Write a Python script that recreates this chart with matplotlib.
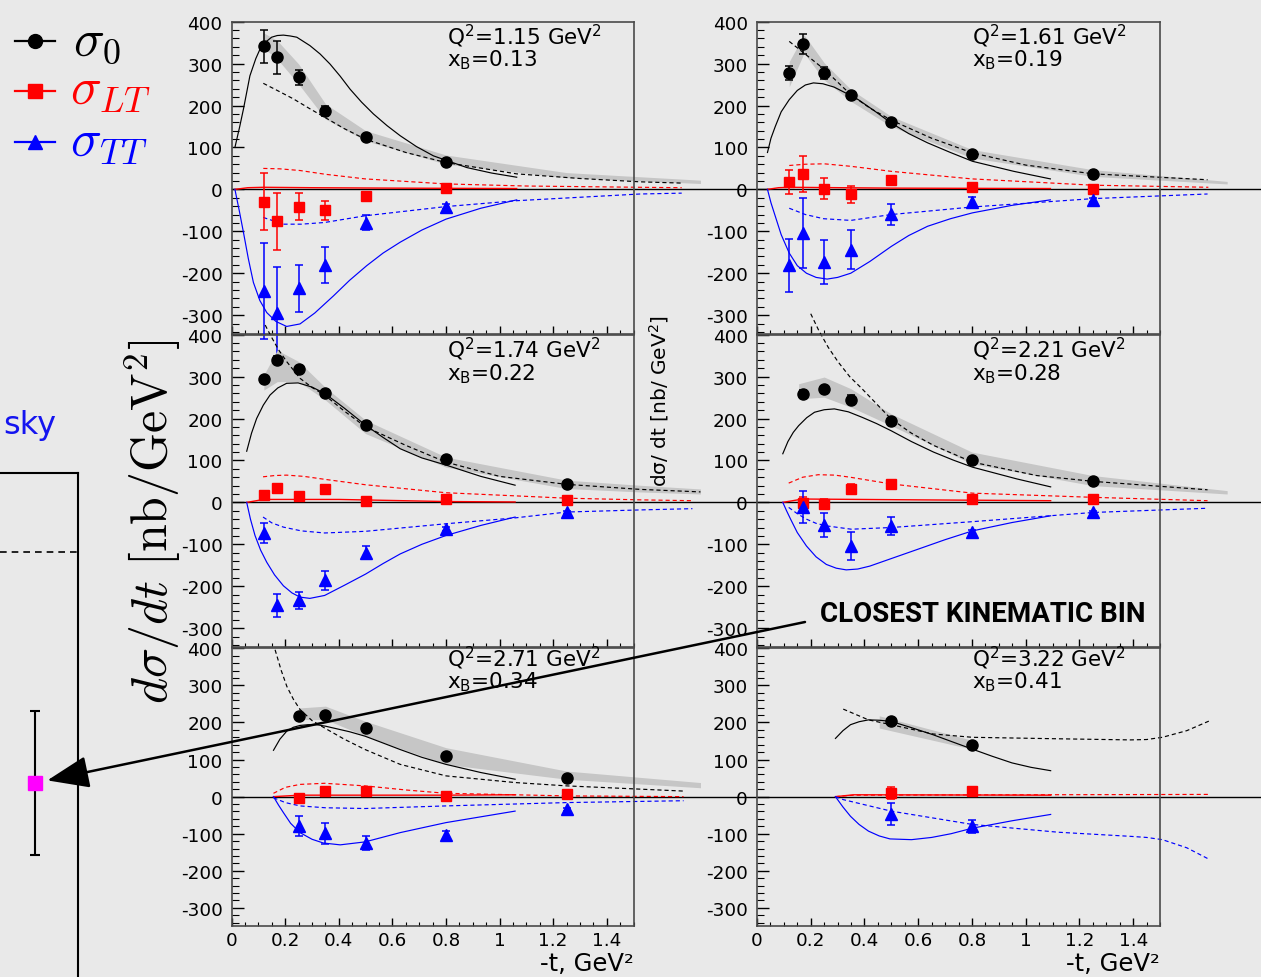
import matplotlib
matplotlib.use("Agg")
import matplotlib.pyplot as plt
from matplotlib.lines import Line2D
from matplotlib.ticker import FixedLocator, MultipleLocator, FixedFormatter
import matplotlib.transforms as mtransforms

# ------------------------------------------------------------------ data
T_BINS = [0.12, 0.17, 0.25, 0.35, 0.5, 0.8, 1.25]
X_TICKS = [0, 0.2, 0.4, 0.6, 0.8, 1.0, 1.2, 1.4]
X_TICK_LABELS = ["0", "0.2", "0.4", "0.6", "0.8", "1", "1.2", "1.4"]

# --- panel 1: Q2=1.15, xB=0.13
p1_q2, p1_xb = "1.15", "0.13"
p1_t = T_BINS[:6]
p1_s0 = [341, 315, 267, 187, 126, 66]
p1_s0_err = [39, 40, 18, 12, 6, 5]
p1_lt = [-30, -76, -41, -50, -15, 4]
p1_lt_err = [68, 68, 32, 23, 6, 5]
p1_tt = [-243, -294, -236, -180, -80, -41]
p1_tt_err = [115, 110, 56, 43, 18, 5]
p1_s0_solid_t = [0.012, 0.03, 0.044, 0.068, 0.09, 0.106, 0.128, 0.149, 0.17, 0.193, 0.218, 0.243, 0.292, 0.33, 0.367, 0.405, 0.442, 0.485, 0.529, 0.58, 0.629, 0.69, 0.753, 0.878, 0.97, 1.064]
p1_s0_solid = [100, 150, 192, 271, 312, 335, 352, 363, 367, 368, 366, 363, 343, 323, 299, 270, 239, 208, 180, 152, 128, 102, 80, 52, 39, 29]
p1_s0_dash_t = [0.118, 0.17, 0.23, 0.29, 0.347, 0.42, 0.498, 0.65, 0.8, 1.064, 1.3, 1.525, 1.68]
p1_s0_dash = [253, 236, 216, 193, 172, 145, 120, 88, 64, 37, 26, 18, 15]
p1_band_t = [0.115, 0.17, 0.25, 0.35, 0.5, 0.8, 1.25, 1.75]
p1_band_lo = [339, 311, 251, 168, 116, 60, 28, 14]
p1_band_hi = [375, 355, 299, 204, 140, 82, 40, 22]
p1_lt_solid_t = [0.012, 0.06, 0.12, 0.3, 0.6, 1.064]
p1_lt_solid = [0, 4, 5, 4, 3, 2]
p1_lt_dash_t = [0.118, 0.18, 0.255, 0.35, 0.498, 0.8, 1.1, 1.525, 1.68]
p1_lt_dash = [50, 49, 45, 36, 25, 13, 8, 5, 4]
p1_tt_solid_t = [0.012, 0.028, 0.044, 0.062, 0.081, 0.105, 0.131, 0.165, 0.205, 0.255, 0.31, 0.38, 0.44, 0.504, 0.565, 0.629, 0.71, 0.8, 0.93, 1.064]
p1_tt_solid = [0, -50, -103, -165, -222, -265, -294, -315, -327, -321, -295, -254, -217, -182, -152, -126, -97, -71, -45, -25]
p1_tt_dash_t = [0.118, 0.193, 0.26, 0.347, 0.498, 0.8, 1.064, 1.525, 1.68]
p1_tt_dash = [-67, -83, -83, -79, -63, -41, -27, -11, -9]

# --- panel 2: Q2=1.61, xB=0.19
p2_q2, p2_xb = "1.61", "0.19"
p2_t = T_BINS
p2_s0 = [278, 347, 278, 224, 161, 84, 36]
p2_s0_err = [17, 24, 15, 9, 5, 5, 4]
p2_lt = [18, 37, 2, -12, 22, 6, 2]
p2_lt_err = [28, 43, 26, 20, 5, 4, 4]
p2_tt = [-181, -104, -173, -144, -59, -31, -25]
p2_tt_err = [63, 83, 53, 46, 25, 13, 4]
p2_s0_solid_t = [0.039, 0.052, 0.068, 0.09, 0.12, 0.15, 0.18, 0.21, 0.245, 0.287, 0.33, 0.377, 0.44, 0.5, 0.565, 0.635, 0.72, 0.802, 0.956, 1.092]
p2_s0_solid = [88, 122, 150, 185, 214, 236, 249, 254, 252, 244, 230, 214, 186, 158, 133, 111, 88, 67, 43, 25]
p2_s0_dash_t = [0.12, 0.175, 0.251, 0.349, 0.42, 0.5, 0.65, 0.802, 1.0, 1.252, 1.677]
p2_s0_dash = [353, 325, 286, 226, 194, 165, 122, 87, 58, 37, 23]
p2_band_t = [0.12, 0.175, 0.25, 0.35, 0.5, 0.8, 1.25, 1.75]
p2_band_lo = [245, 325, 261, 210, 150, 75, 31, 13]
p2_band_hi = [305, 369, 302, 238, 174, 95, 47, 19]
p2_lt_solid_t = [0.039, 0.08, 0.12, 0.5, 1.092]
p2_lt_solid = [0, 4, 5, 3, 2]
p2_lt_dash_t = [0.12, 0.18, 0.25, 0.35, 0.5, 0.8, 1.25, 1.68]
p2_lt_dash = [57, 60, 61, 55, 43, 25, 10, 5]
p2_tt_solid_t = [0.039, 0.052, 0.068, 0.09, 0.12, 0.15, 0.184, 0.22, 0.261, 0.3, 0.349, 0.42, 0.5, 0.565, 0.635, 0.72, 0.802, 0.95, 1.092]
p2_tt_solid = [0, -32, -64, -108, -152, -182, -200, -210, -214, -210, -200, -172, -136, -110, -88, -70, -56, -38, -25]
p2_tt_dash_t = [0.12, 0.18, 0.248, 0.349, 0.5, 0.802, 1.252, 1.677]
p2_tt_dash = [-45, -60, -70, -74, -60, -42, -22, -11]

# --- panel 3: Q2=1.74, xB=0.22
p3_q2, p3_xb = "1.74", "0.22"
p3_t = T_BINS
p3_s0 = [294, 340, 318, 260, 184, 103, 45]
p3_s0_err = [8, 8, 8, 7, 6, 5, 5]
p3_lt = [17, 34, 15, 31, 3, 9, 6]
p3_lt_err = [5, 5, 5, 5, 4, 4, 4]
p3_tt = [-73, -246, -234, -186, -120, -63, -24]
p3_tt_err = [24, 28, 20, 23, 15, 5, 4]
p3_s0_solid_t = [0.056, 0.074, 0.093, 0.118, 0.143, 0.172, 0.205, 0.248, 0.3, 0.347, 0.42, 0.5, 0.565, 0.629, 0.71, 0.8, 0.93, 1.058]
p3_s0_solid = [122, 165, 200, 232, 256, 273, 284, 285, 275, 260, 225, 184, 155, 128, 106, 89, 62, 41]
p3_s0_dash_t = [0.125, 0.147, 0.175, 0.205, 0.255, 0.3, 0.347, 0.42, 0.5, 0.65, 0.8, 1.0, 1.251, 1.525, 1.75]
p3_s0_dash = [423, 396, 364, 336, 296, 274, 256, 218, 180, 136, 96, 62, 43, 31, 25]
p3_band_t = [0.12, 0.17, 0.25, 0.35, 0.5, 0.8, 1.25, 1.52, 1.75]
p3_band_lo = [268, 288, 288, 244, 164, 84, 33, 25, 20]
p3_band_hi = [304, 363, 336, 274, 196, 108, 53, 41, 32]
p3_lt_solid_t = [0.056, 0.12, 0.4, 0.8, 1.058]
p3_lt_solid = [0, 7, 7, 2, 1]
p3_lt_dash_t = [0.117, 0.16, 0.205, 0.27, 0.347, 0.5, 0.8, 1.251, 1.525, 1.72]
p3_lt_dash = [61, 64, 65, 62, 55, 42, 23, 10, 6, 4]
p3_tt_solid_t = [0.056, 0.07, 0.087, 0.108, 0.131, 0.16, 0.193, 0.225, 0.255, 0.292, 0.347, 0.42, 0.5, 0.565, 0.629, 0.71, 0.8, 0.93, 1.058]
p3_tt_solid = [0, -40, -79, -114, -143, -173, -199, -216, -226, -229, -222, -198, -171, -146, -123, -100, -79, -55, -35]
p3_tt_dash_t = [0.117, 0.15, 0.193, 0.26, 0.347, 0.5, 0.8, 1.058, 1.251, 1.525, 1.72]
p3_tt_dash = [-35, -49, -59, -68, -73, -69, -51, -37, -23, -18, -15]

# --- panel 4: Q2=2.21, xB=0.28
p4_q2, p4_xb = "2.21", "0.28"
p4_t = T_BINS[1:]
p4_s0 = [258, 270, 245, 195, 102, 51]
p4_s0_err = [10, 8, 10, 7, 5, 5]
p4_lt = [-2, -4, 32, 43, 8, 7]
p4_lt_err = [15, 12, 12, 6, 5, 5]
p4_tt = [-12, -54, -104, -57, -70, -24]
p4_tt_err = [38, 29, 34, 22, 5, 4]
p4_s0_solid_t = [0.096, 0.115, 0.135, 0.155, 0.185, 0.214, 0.25, 0.288, 0.34, 0.391, 0.445, 0.499, 0.575, 0.657, 0.73, 0.802, 0.967, 1.093]
p4_s0_solid = [116, 145, 167, 183, 202, 215, 221, 223, 216, 203, 188, 171, 145, 120, 101, 84, 56, 37]
p4_s0_dash_t = [0.2, 0.23, 0.265, 0.302, 0.345, 0.391, 0.445, 0.499, 0.575, 0.657, 0.802, 1.041, 1.253, 1.677]
p4_s0_dash = [450, 410, 370, 335, 300, 271, 235, 199, 165, 136, 96, 64, 50, 30]
p4_band_t = [0.155, 0.25, 0.35, 0.5, 0.8, 1.25, 1.75]
p4_band_lo = [247, 251, 227, 183, 92, 40, 20]
p4_band_hi = [283, 299, 271, 211, 120, 64, 28]
p4_lt_solid_t = [0.096, 0.17, 0.6, 1.093]
p4_lt_solid = [0, 8, 6, 4]
p4_lt_dash_t = [0.118, 0.17, 0.228, 0.29, 0.347, 0.499, 0.802, 1.253, 1.677]
p4_lt_dash = [46, 60, 66, 65, 60, 44, 22, 12, 4]
p4_tt_solid_t = [0.096, 0.11, 0.125, 0.15, 0.184, 0.22, 0.258, 0.295, 0.332, 0.375, 0.42, 0.5, 0.598, 0.7, 0.802, 0.95, 1.093]
p4_tt_solid = [0, -20, -40, -72, -104, -130, -148, -157, -161, -159, -152, -134, -112, -89, -68, -48, -32]
p4_tt_dash_t = [0.118, 0.15, 0.184, 0.22, 0.258, 0.351, 0.499, 0.802, 1.253, 1.677]
p4_tt_dash = [-12, -27, -40, -50, -56, -64, -60, -46, -24, -14]

# --- panel 5: Q2=2.71, xB=0.34
p5_q2, p5_xb = "2.71", "0.34"
p5_t = T_BINS[2:]
p5_s0 = [217, 220, 184, 110, 51]
p5_s0_err = [6, 6, 6, 5, 5]
p5_lt = [-5, 15, 15, 2, 8]
p5_lt_err = [5, 5, 5, 4, 4]
p5_tt = [-79, -99, -124, -103, -34]
p5_tt_err = [27, 28, 19, 10, 4]
p5_s0_solid_t = [0.156, 0.18, 0.206, 0.23, 0.255, 0.285, 0.317, 0.35, 0.38, 0.44, 0.498, 0.56, 0.629, 0.71, 0.8, 0.93, 1.058]
p5_s0_solid = [125, 155, 177, 187, 192, 194, 194, 190, 185, 175, 163, 146, 127, 106, 87, 65, 47]
p5_s0_dash_t = [0.162, 0.185, 0.206, 0.23, 0.255, 0.3, 0.347, 0.42, 0.498, 0.629, 0.8, 1.058, 1.251, 1.687]
p5_s0_dash = [396, 340, 297, 263, 235, 205, 185, 155, 127, 87, 56, 38, 29, 15]
p5_band_t = [0.25, 0.35, 0.5, 0.8, 1.25, 1.75]
p5_band_lo = [208, 208, 163, 87, 47, 24]
p5_band_hi = [239, 244, 203, 132, 69, 38]
p5_lt_solid_t = [0.156, 0.255, 0.8, 1.058]
p5_lt_solid = [0, 4, 4, 5]
p5_lt_dash_t = [0.156, 0.2, 0.255, 0.347, 0.498, 0.65, 0.8, 1.251, 1.687]
p5_lt_dash = [9, 25, 33, 36, 29, 18, 9, 2, 0]
p5_tt_solid_t = [0.156, 0.175, 0.193, 0.22, 0.255, 0.3, 0.342, 0.405, 0.498, 0.629, 0.8, 1.058]
p5_tt_solid = [0, -23, -43, -72, -97, -115, -125, -130, -122, -97, -70, -39]
p5_tt_dash_t = [0.156, 0.2, 0.255, 0.35, 0.498, 0.8, 1.251, 1.687]
p5_tt_dash = [-3, -16, -25, -30, -32, -25, -16, -11]

# --- panel 6: Q2=3.22, xB=0.41
p6_q2, p6_xb = "3.22", "0.41"
p6_t = T_BINS[4:6]
p6_s0 = [203, 139]
p6_s0_err = [8, 5]
p6_lt = [10, 14]
p6_lt_err = [16, 5]
p6_tt = [-46, -80]
p6_tt_err = [30, 17]
p6_s0_solid_t = [0.292, 0.32, 0.348, 0.38, 0.415, 0.455, 0.499, 0.575, 0.655, 0.73, 0.802, 0.875, 0.949, 1.02, 1.093]
p6_s0_solid = [157, 178, 194, 202, 207, 206, 203, 186, 167, 147, 128, 109, 91, 79, 70]
p6_s0_dash_t = [0.321, 0.415, 0.499, 0.655, 0.802, 1.122, 1.389, 1.45, 1.509, 1.6, 1.683]
p6_s0_dash = [236, 207, 194, 169, 160, 156, 153, 154, 160, 178, 204]
p6_band_t = [0.455, 0.8]
p6_band_lo = [185, 128]
p6_band_hi = [218, 152]
p6_lt_solid_t = [0.292, 0.36, 1.093]
p6_lt_solid = [0, 5, 4]
p6_lt_dash_t = [0.292, 0.36, 1.0, 1.683]
p6_lt_dash = [0, 4, 5, 6]
p6_tt_solid_t = [0.292, 0.32, 0.348, 0.38, 0.415, 0.455, 0.495, 0.575, 0.65, 0.722, 0.802, 0.95, 1.093]
p6_tt_solid = [0, -28, -53, -75, -93, -106, -114, -116, -110, -100, -85, -65, -48]
p6_tt_dash_t = [0.292, 0.321, 0.499, 0.802, 1.122, 1.389, 1.45, 1.509, 1.6, 1.683]
p6_tt_dash = [0, -8, -39, -75, -96, -107, -110, -116, -138, -169]

# single point of the cropped comparison plot on the left
mag_x = [0.45]
mag_y = [0.385]
mag_err = [0.142]
crop_dash_level = 0.843

# ------------------------------------------------------------------ style
W, H = 1261, 978
BG = "#e9e9e9"
RED = "#ff0000"
BLUE = "#0000ff"
BAND = "#c6c6c6"
FRAME = "#4a4a4a"

plt.rcParams["font.family"] = ["DejaVu Sans"]
plt.rcParams["axes.unicode_minus"] = False

fig = plt.figure(figsize=(W / 100, H / 100), dpi=100, facecolor=BG)


def fx(px):
    return px / W


def fy(py):
    return 1 - py / H


def add_ax(l, t, r, b):
    ax = fig.add_axes([fx(l), fy(b), (r - l) / W, (b - t) / H])
    ax.patch.set_visible(False)
    return ax


def build(prefix):
    g = globals()
    keys = ["q2", "xb", "t", "s0", "s0_err", "lt", "lt_err", "tt", "tt_err",
            "s0_solid_t", "s0_solid", "s0_dash_t", "s0_dash", "band_t", "band_lo", "band_hi",
            "lt_solid_t", "lt_solid", "lt_dash_t", "lt_dash",
            "tt_solid_t", "tt_solid", "tt_dash_t", "tt_dash"]
    return {k: g[prefix + "_" + k] for k in keys}


def noclip(container):
    for a in container.get_children():
        a.set_clip_on(False)


def draw_panel(ax, p, ylim, show_x, txt_off):
    lw = 0.85
    dash = (0, (3.5, 2.5))
    ax.fill_between(p["band_t"], p["band_lo"], p["band_hi"], color=BAND, lw=0, zorder=1, clip_on=False)
    ax.plot(p["s0_solid_t"], p["s0_solid"], color="k", lw=lw, zorder=2, clip_on=False)
    ax.plot(p["s0_dash_t"], p["s0_dash"], color="k", lw=lw, ls=dash, zorder=2, clip_on=False)
    ax.plot(p["lt_solid_t"], p["lt_solid"], color=RED, lw=1.0, zorder=2, clip_on=False)
    ax.plot(p["lt_dash_t"], p["lt_dash"], color=RED, lw=lw, ls=dash, zorder=2, clip_on=False)
    ax.plot(p["tt_solid_t"], p["tt_solid"], color=BLUE, lw=lw, zorder=2, clip_on=False)
    ax.plot(p["tt_dash_t"], p["tt_dash"], color=BLUE, lw=lw, ls=dash, zorder=2, clip_on=False)

    ek = dict(capsize=3, elinewidth=1.1, capthick=1.1, zorder=5, linestyle="none")
    noclip(ax.errorbar(p["t"], p["s0"], yerr=p["s0_err"], marker="o", ms=8, color="k", **ek))
    noclip(ax.errorbar(p["t"], p["lt"], yerr=p["lt_err"], marker="s", ms=7.5, color=RED, **ek))
    noclip(ax.errorbar(p["t"], p["tt"], yerr=p["tt_err"], marker="^", ms=8, color=BLUE, **ek))

    ax.set_xlim(0, 1.5)
    ax.set_ylim(*ylim)
    ax.xaxis.set_major_locator(FixedLocator(X_TICKS))
    ax.xaxis.set_minor_locator(MultipleLocator(0.05))
    if show_x:
        ax.xaxis.set_major_formatter(FixedFormatter(X_TICK_LABELS))
    else:
        ax.set_xticklabels([])
    ax.yaxis.set_major_locator(MultipleLocator(100))
    ax.yaxis.set_minor_locator(MultipleLocator(20))
    ax.tick_params(axis="y", which="major", direction="in", length=8.6, width=1.0,
                   labelsize=13.2, pad=6.5, colors="k")
    ax.tick_params(axis="y", which="minor", direction="in", length=5, width=0.8)
    ax.tick_params(axis="x", which="major", direction="in", length=5.5, width=1.0,
                   labelsize=13.2, pad=3.5)
    ax.tick_params(axis="x", which="minor", direction="in", length=2.8, width=0.8)
    for s in ax.spines.values():
        s.set_color(FRAME)
        s.set_linewidth(1.2)

    ax.annotate("Q$^2$=" + p["q2"] + " GeV$^2$", xy=(0, 1), xycoords="axes fraction",
                xytext=(215.5, -txt_off[0]), textcoords="offset pixels",
                ha="left", va="baseline", fontsize=15.5, math_fontfamily="dejavusans")
    ax.annotate("x$_\\mathrm{B}$=" + p["xb"], xy=(0, 1), xycoords="axes fraction",
                xytext=(215.5, -txt_off[1]), textcoords="offset pixels",
                ha="left", va="baseline", fontsize=15.5, math_fontfamily="dejavusans")


rows = [
    dict(top=22.7, bot=335.0, ylim=(-345, 400), off=(21.5, 43.5), show_x=False, panels=("p1", "p2")),
    dict(top=335.7, bot=648.0, ylim=(-345, 400), off=(22.5, 44.5), show_x=False, panels=("p3", "p4")),
    dict(top=649.3, bot=926.7, ylim=(-348, 400), off=(17.5, 39.5), show_x=True, panels=("p5", "p6")),
]
cols = [(231.7, 633.5), (757.0, 1160.0)]

for row in rows:
    axes_row = []
    for (l, r), pref in zip(cols, row["panels"]):
        ax = add_ax(l, row["top"], r, row["bot"])
        draw_panel(ax, build(pref), row["ylim"], row["show_x"], row["off"])
        axes_row.append(ax)
    axL = axes_row[0]
    tr = mtransforms.blended_transform_factory(fig.transFigure, axL.transData)
    axL.add_line(Line2D([fx(231.7), 1.0], [0, 0], transform=tr, color="k", lw=1.0,
                        clip_on=False, zorder=1.5))
    axL.set_xlim(0, 1.5)
    axL.set_ylim(*row["ylim"])

# x axis titles
for xr in (634, 1160):
    fig.text(fx(xr), fy(971), "-t, GeV²", ha="right", va="baseline", fontsize=17.5)

# small ROOT y title (partly hidden)
fig.text(fx(659), fy(401), "dσ/ dt [nb/ GeV$^2$]", rotation=90, ha="center", va="center",
         fontsize=14.5, math_fontfamily="dejavusans")

# big y title
fig.text(fx(153), fy(522), r"$d\sigma/dt\ [\mathrm{nb/GeV}^2]$", rotation=90, ha="center",
         va="center", fontsize=36, math_fontfamily="cm")

# legend
leg = [(41.7, "o", "k", r"$\sigma_0$", 73, 55),
       (91.7, "s", RED, r"$\sigma_{LT}$", 70, 104),
       (143.0, "^", BLUE, r"$\sigma_{TT}$", 70, 156)]
for y, mk, col, lab, tx, tyb in leg:
    fig.add_artist(Line2D([fx(15), fx(55)], [fy(y), fy(y)], color=col, lw=1.6))
    fig.add_artist(Line2D([fx(35)], [fy(y)], marker=mk, color=col, ms=10, ls="none"))
    fig.text(fx(tx), fy(tyb), lab, color=col, fontsize=37, ha="left", va="baseline",
             math_fontfamily="cm")

# 'sky' fragment
fig.text(fx(3), fy(426), "sky", color="#1414f0", fontsize=23, ha="left", va="center")

# cropped comparison plot on the left
crop = add_ax(0, 474, 78, 978)
crop.set_xlim(0, 1)
crop.set_ylim(0, 1)
crop.set_xticks([])
crop.set_yticks([])
for side in ("left", "bottom"):
    crop.spines[side].set_visible(False)
for side in ("top", "right"):
    crop.spines[side].set_color("k")
    crop.spines[side].set_linewidth(1.5)
crop.axhline(crop_dash_level, color="k", lw=1.2, ls=(0, (4, 3)))
noclip(crop.errorbar(mag_x, mag_y, yerr=mag_err, marker="s", ms=10, color="#ff00ff",
                     ecolor="k", elinewidth=1.5, capsize=3.5, capthick=1.5, linestyle="none"))

crop.annotate("", xy=(mag_x[0], mag_y[0]), xycoords="data",
              xytext=(fx(805), fy(623)), textcoords="figure fraction",
              arrowprops=dict(arrowstyle="-|>,head_length=1.3,head_width=0.5", color="k",
                              lw=1.8, shrinkA=0, shrinkB=9, mutation_scale=20),
              annotation_clip=False, zorder=10)

fig.text(fx(820), fy(615), "CLOSEST KINEMATIC BIN", fontsize=20, fontweight="bold",
         family=["Roboto", "DejaVu Sans"], ha="left", va="center")

fig.savefig("out.png", dpi=100, facecolor=BG)
